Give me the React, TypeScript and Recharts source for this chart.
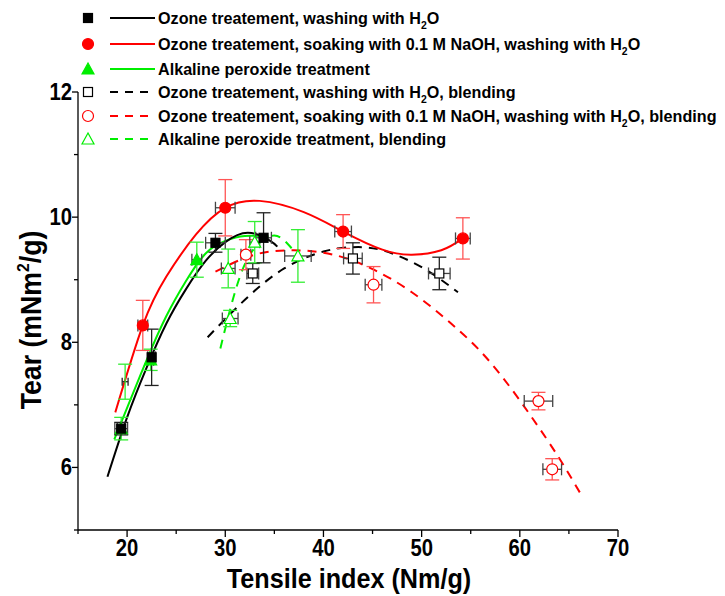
import { ComposedChart, Line, Scatter, XAxis, YAxis, ErrorBar } from "recharts";

const xTicks = [15, 20, 25, 30, 35, 40, 45, 50, 55, 60, 65, 70];
const yTicks = [5, 6, 7, 8, 9, 10, 11, 12];

// measured points: x, y, x-error, y-error
const ozoneWash = [
  { x: 19.4, y: 6.62, ex: 0.65, ey: 0.1 },
  { x: 22.5, y: 7.76, ex: 0.4, ey: 0.45 },
  { x: 29.0, y: 9.59, ex: 1.0, ey: 0.15 },
  { x: 33.9, y: 9.67, ex: 0.8, ey: 0.4 },
];
const ozoneNaOH = [
  { x: 21.6, y: 8.27, ex: 0.5, ey: 0.4 },
  { x: 30.0, y: 10.15, ex: 1.0, ey: 0.45 },
  { x: 42.0, y: 9.77, ex: 0.85, ey: 0.27 },
  { x: 54.2, y: 9.66, ex: 0.75, ey: 0.33 },
];
const alkaline = [
  { x: 19.4, y: 6.62, ex: 0.4, ey: 0.18 },
  { x: 22.4, y: 7.72, ex: 0.3, ey: 0.17 },
  { x: 27.1, y: 9.32, ex: 0.5, ey: 0.28 },
];
const alkalineNoMark = [{ x: 19.8, y: 7.37, ex: 0.3, ey: 0.28 }];
const ozoneWashBlend = [
  { x: 32.8, y: 9.1, ex: 0.6, ey: 0.16 },
  { x: 43.0, y: 9.34, ex: 0.95, ey: 0.25 },
  { x: 51.8, y: 9.1, ex: 1.1, ey: 0.26 },
];
const ozoneNaOHBlend = [
  { x: 32.1, y: 9.4, ex: 0.5, ey: 0.24 },
  { x: 45.1, y: 8.92, ex: 0.85, ey: 0.29 },
  { x: 61.9, y: 7.06, ex: 1.45, ey: 0.14 },
  { x: 63.3, y: 5.97, ex: 0.95, ey: 0.17 },
];
const alkalineBlend = [
  { x: 30.5, y: 8.38, ex: 0.8, ey: 0.13 },
  { x: 30.3, y: 9.18, ex: 0.7, ey: 0.31 },
  { x: 33.0, y: 9.6, ex: 0.5, ey: 0.33 },
  { x: 37.4, y: 9.38, ex: 1.35, ey: 0.42 },
];

// fitted curves
const fitOzoneWashX = [18, 20, 22, 24, 26, 28, 30, 32.3, 34.5, 35.3];
const fitOzoneWashY = [5.85, 6.8, 7.6, 8.3, 8.85, 9.3, 9.6, 9.75, 9.63, 9.53];
const fitOzoneNaOHX = [18.8, 21.6, 24, 27, 30, 33.5, 38, 42, 46, 49, 52, 54.2];
const fitOzoneNaOHY = [6.88, 8.27, 9.05, 9.72, 10.15, 10.26, 10.08, 9.77, 9.48, 9.4, 9.47, 9.66];
const fitAlkalineX = [18.7, 20, 22, 24, 26, 28, 30, 32, 34.4];
const fitAlkalineY = [6.45, 6.95, 7.72, 8.42, 8.98, 9.42, 9.62, 9.7, 9.69];
const fitOzoneWashBlendX = [28.2, 32, 36, 40, 43, 46, 50, 53.7];
const fitOzoneWashBlendY = [8.08, 8.68, 9.18, 9.45, 9.52, 9.47, 9.2, 8.8];
const fitOzoneNaOHBlendX = [29, 33, 37, 41, 45, 49, 53, 57, 61, 64, 66.3];
const fitOzoneNaOHBlendY = [9.13, 9.4, 9.47, 9.4, 9.17, 8.8, 8.3, 7.68, 6.85, 6.15, 5.55];
const fitAlkalineBlendX = [29.5, 30.8, 32.5, 34.7, 36.2, 37.4];
const fitAlkalineBlendY = [7.9, 8.7, 9.4, 9.7, 9.6, 9.38];

const zip = (xs: number[], ys: number[]) => xs.map((x, i) => ({ x, y: ys[i] }));

const FONT = "'Liberation Sans', Arial, sans-serif";
const BLACK = "#000000";
const RED = "#ff0000";
const GREEN = "#00ee00";

const square = (fill: string, stroke: string) => (p: any) => (
  <rect x={p.cx - 4.5} y={p.cy - 4.5} width={9} height={9} fill={fill} stroke={stroke} strokeWidth={1.2} />
);
const circle = (fill: string, stroke: string) => (p: any) => (
  <circle cx={p.cx} cy={p.cy} r={5.5} fill={fill} stroke={stroke} strokeWidth={1.2} />
);
const triangle = (fill: string, stroke: string) => (p: any) => (
  <polygon
    points={`${p.cx},${p.cy - 6} ${p.cx - 6},${p.cy + 5} ${p.cx + 6},${p.cy + 5}`}
    fill={fill}
    stroke={stroke}
    strokeWidth={1.2}
  />
);
const nothing = () => <g />;

const XTick = (props: any) => {
  const { x, y, payload } = props;
  const major = payload.value % 10 === 0;
  return (
    <g>
      <line x1={x} x2={x} y1={y} y2={y + (major ? 7 : 4)} stroke="#000" strokeWidth={1.3} />
      {major && (
        <text
          transform={`translate(${x},${y + 26}) scale(0.88,1)`}
          textAnchor="middle"
          fontFamily={FONT}
          fontWeight="bold"
          fontSize={23}
          fill="#000"
        >
          {payload.value}
        </text>
      )}
    </g>
  );
};

const YTick = (props: any) => {
  const { x, y, payload } = props;
  const major = payload.value % 2 === 0;
  return (
    <g>
      <line x1={x} x2={x - (major ? 6 : 4)} y1={y} y2={y} stroke="#000" strokeWidth={1.3} />
      {major && (
        <text
          transform={`translate(${x - 6},${y + 8}) scale(0.88,1)`}
          textAnchor="end"
          fontFamily={FONT}
          fontWeight="bold"
          fontSize={23}
          fill="#000"
        >
          {payload.value}
        </text>
      )}
    </g>
  );
};

const legendRows = [
  { y: 18, label: "Ozone treatement, washing with H", sub: "2", tail: "O", color: BLACK, mark: "square", filled: true, dash: false },
  { y: 44, label: "Ozone treatement, soaking with 0.1 M NaOH, washing with H", sub: "2", tail: "O", color: RED, mark: "circle", filled: true, dash: false },
  { y: 69, label: "Alkaline peroxide treatment", sub: "", tail: "", color: GREEN, mark: "triangle", filled: true, dash: false },
  { y: 92, label: "Ozone treatement, washing with H", sub: "2", tail: "O, blending", color: BLACK, mark: "square", filled: false, dash: true },
  { y: 116, label: "Ozone treatement, soaking with 0.1 M NaOH, washing with H", sub: "2", tail: "O, blending", color: RED, mark: "circle", filled: false, dash: true },
  { y: 139, label: "Alkaline peroxide treatment, blending", sub: "", tail: "", color: GREEN, mark: "triangle", filled: false, dash: true },
];

function Overlay() {
  return (
    <svg width={725} height={596} style={{ position: "absolute", left: 0, top: 0, pointerEvents: "none" }}>
      {legendRows.map((r) => {
        const fill = r.filled ? r.color : "#fff";
        const cx = 88;
        const cy = r.y;
        let mark;
        if (r.mark === "square") mark = square(fill, r.color)({ cx, cy });
        else if (r.mark === "circle") mark = circle(fill, r.color)({ cx, cy });
        else mark = triangle(fill, r.color)({ cx, cy });
        return (
          <g key={r.y}>
            {mark}
            <line x1={110} x2={155} y1={cy} y2={cy} stroke={r.color} strokeWidth={2} strokeDasharray={r.dash ? "8 7" : undefined} />
            <text
              transform={`translate(158,${cy + 6}) scale(0.95,1)`}
              fontFamily={FONT}
              fontWeight="bold"
              fontSize={17}
              fill="#000"
            >
              {r.label}
              {r.sub && (
                <tspan fontSize={11} dy={5}>
                  {r.sub}
                </tspan>
              )}
              {r.sub && <tspan dy={-5}>{r.tail}</tspan>}
            </text>
          </g>
        );
      })}
      <text
        transform="translate(349,588) scale(0.9,1)"
        textAnchor="middle"
        fontFamily={FONT}
        fontWeight="bold"
        fontSize={28}
        fill="#000"
      >
        Tensile index (Nm/g)
      </text>
      <text
        transform="translate(41,320) rotate(-90) scale(0.92,1)"
        textAnchor="middle"
        fontFamily={FONT}
        fontWeight="bold"
        fontSize={29}
        fill="#000"
      >
        Tear (mNm<tspan fontSize={17} dy={-12}>2</tspan>
        <tspan dy={12}>/g)</tspan>
      </text>
    </svg>
  );
}

export default function App() {
  return (
    <div style={{ position: "absolute", left: 0, top: 0, width: 725, height: 596, background: "#fff" }}>
      <ComposedChart width={725} height={596} margin={{ top: 92, right: 107, left: 18, bottom: 6 }}>
        <XAxis
          dataKey="x"
          type="number"
          domain={[15, 70]}
          ticks={xTicks}
          interval={0}
          tickSize={0}
          tickMargin={0}
          tickLine={false}
          tick={<XTick />}
          axisLine={{ stroke: "#000", strokeWidth: 1.3 }}
          height={60}
          allowDataOverflow
        />
        <YAxis
          dataKey="y"
          type="number"
          domain={[5, 12]}
          ticks={yTicks}
          interval={0}
          tickSize={0}
          tickMargin={0}
          tickLine={false}
          tick={<YTick />}
          axisLine={{ stroke: "#000", strokeWidth: 1.3 }}
          width={60}
          allowDataOverflow
        />
        <Line data={zip(fitOzoneWashBlendX, fitOzoneWashBlendY)} dataKey="y" type="natural" stroke={BLACK} strokeWidth={2} strokeDasharray="9 7" dot={false} isAnimationActive={false} />
        <Line data={zip(fitOzoneNaOHBlendX, fitOzoneNaOHBlendY)} dataKey="y" type="natural" stroke={RED} strokeWidth={2} strokeDasharray="9 7" dot={false} isAnimationActive={false} />
        <Line data={zip(fitAlkalineBlendX, fitAlkalineBlendY)} dataKey="y" type="natural" stroke={GREEN} strokeWidth={2} strokeDasharray="9 7" dot={false} isAnimationActive={false} />
        <Line data={zip(fitOzoneNaOHX, fitOzoneNaOHY)} dataKey="y" type="natural" stroke={RED} strokeWidth={2} dot={false} isAnimationActive={false} />
        <Line data={zip(fitAlkalineX, fitAlkalineY)} dataKey="y" type="natural" stroke={GREEN} strokeWidth={2} dot={false} isAnimationActive={false} />
        <Line data={zip(fitOzoneWashX, fitOzoneWashY)} dataKey="y" type="natural" stroke={BLACK} strokeWidth={2} dot={false} isAnimationActive={false} />

        <Scatter data={ozoneWashBlend} dataKey="y" shape={square("#fff", BLACK)} isAnimationActive={false}>
          <ErrorBar dataKey="ex" direction="x" width={6} stroke="#444" strokeWidth={1.3} />
          <ErrorBar dataKey="ey" direction="y" width={7} stroke="#222" strokeWidth={1.3} />
        </Scatter>
        <Scatter data={ozoneNaOHBlend} dataKey="y" shape={circle("#fff", RED)} isAnimationActive={false}>
          <ErrorBar dataKey="ex" direction="x" width={6} stroke="#444" strokeWidth={1.3} />
          <ErrorBar dataKey="ey" direction="y" width={7} stroke="#ff5555" strokeWidth={1.3} />
        </Scatter>
        <Scatter data={alkalineBlend} dataKey="y" shape={triangle("#fff", GREEN)} isAnimationActive={false}>
          <ErrorBar dataKey="ex" direction="x" width={6} stroke="#444" strokeWidth={1.3} />
          <ErrorBar dataKey="ey" direction="y" width={7} stroke="#33ee33" strokeWidth={1.3} />
        </Scatter>
        <Scatter data={ozoneNaOH} dataKey="y" shape={circle(RED, RED)} isAnimationActive={false}>
          <ErrorBar dataKey="ex" direction="x" width={6} stroke="#444" strokeWidth={1.3} />
          <ErrorBar dataKey="ey" direction="y" width={7} stroke="#ff5555" strokeWidth={1.3} />
        </Scatter>
        <Scatter data={alkalineNoMark} dataKey="y" shape={nothing} isAnimationActive={false}>
          <ErrorBar dataKey="ex" direction="x" width={4} stroke="#222" strokeWidth={1.3} />
          <ErrorBar dataKey="ey" direction="y" width={7} stroke="#33ee33" strokeWidth={1.3} />
        </Scatter>
        <Scatter data={alkaline} dataKey="y" shape={triangle(GREEN, GREEN)} isAnimationActive={false}>
          <ErrorBar dataKey="ex" direction="x" width={6} stroke="#444" strokeWidth={1.3} />
          <ErrorBar dataKey="ey" direction="y" width={7} stroke="#33ee33" strokeWidth={1.3} />
        </Scatter>
        <Scatter data={ozoneWash} dataKey="y" shape={square(BLACK, BLACK)} isAnimationActive={false}>
          <ErrorBar dataKey="ex" direction="x" width={6} stroke="#444" strokeWidth={1.3} />
          <ErrorBar dataKey="ey" direction="y" width={7} stroke="#222" strokeWidth={1.3} />
        </Scatter>
      </ComposedChart>
      <Overlay />
    </div>
  );
}
